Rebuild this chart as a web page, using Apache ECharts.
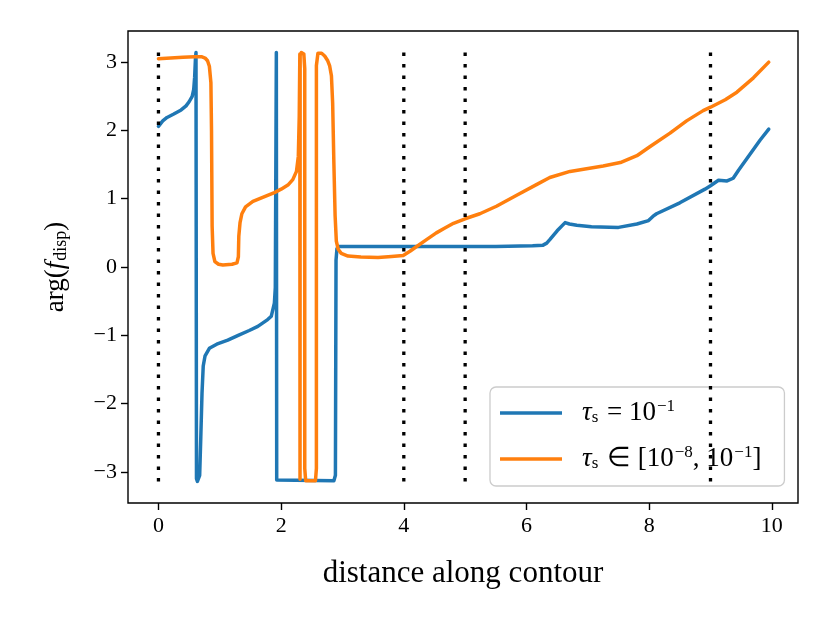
<!DOCTYPE html>
<html>
<head>
<meta charset="utf-8">
<script src="https://cdn.jsdelivr.net/npm/echarts@6/dist/echarts.min.js"></script>
<style>html,body{margin:0;padding:0;background:#fff}#c{width:830px;height:623px}</style>
</head>
<body>
<div id="c"></div>
<script>
const xTicks = [0, 2, 4, 6, 8, 10];
const yTicks = [-3, -2, -1, 0, 1, 2, 3];
const vlineX = [0, 4, 5, 9];
const vlineY = [-3.14, 3.14];
const seriesNames = ['τs = 10^-1', 'τs ∈ [10^-8, 10^-1]'];
const legendRich = ['{t|τ}{s|s}{n| = 10}{p|−1}', '{t|τ}{s|s}{n| ∈ [10}{p|−8}{n|, 10}{p|−1}{n|]}'];

const blueData = [
  [0.00,2.06],[0.07,2.14],[0.14,2.19],[0.25,2.24],[0.37,2.30],[0.45,2.36],[0.50,2.42],[0.55,2.50],
  [0.575,2.60],[0.59,2.78],[0.603,3.05],[0.612,3.14],[0.62,-3.10],[0.635,-3.14],[0.66,-3.14],
  [0.672,-3.05],[0.69,-2.50],[0.71,-1.85],[0.73,-1.45],[0.76,-1.30],[0.83,-1.19],[0.95,-1.13],
  [1.13,-1.07],[1.30,-1.00],[1.48,-0.93],[1.62,-0.87],[1.78,-0.77],[1.84,-0.72],[1.89,-0.53],
  [1.905,-0.30],[1.922,3.14],[1.928,-3.12],[1.95,-3.14],[2.86,-3.13],[2.885,-3.05],[2.895,0.10],
  [2.91,0.27],[2.94,0.30],[3.50,0.30],[4.50,0.30],[5.50,0.30],[6.10,0.31],[6.27,0.32],[6.33,0.35],
  [6.38,0.40],[6.50,0.53],[6.63,0.65],[6.70,0.63],[6.82,0.61],[7.06,0.59],[7.50,0.58],[7.80,0.63],
  [7.99,0.68],[8.06,0.74],[8.12,0.78],[8.50,0.94],[8.91,1.14],[9.00,1.19],[9.13,1.27],[9.27,1.26],
  [9.37,1.30],[9.46,1.42],[9.81,1.86],[9.95,2.02]
];

const orangeData = [
  [0.00,3.05],[0.20,3.06],[0.40,3.07],[0.59,3.08],[0.70,3.08],[0.76,3.06],[0.80,3.02],[0.83,2.94],
  [0.855,2.70],[0.865,2.00],[0.875,0.60],[0.89,0.20],[0.92,0.08],[0.98,0.04],[1.05,0.03],[1.20,0.04],
  [1.28,0.06],[1.303,0.15],[1.31,0.45],[1.33,0.65],[1.36,0.78],[1.42,0.88],[1.54,0.96],[1.70,1.02],
  [1.89,1.09],[2.00,1.14],[2.11,1.20],[2.19,1.28],[2.25,1.40],[2.28,1.62],[2.295,2.20],[2.305,3.12],
  [2.308,-3.11],[2.31,3.10],[2.33,3.14],[2.37,3.12],[2.385,2.90],[2.385,-2.95],[2.40,-3.13],
  [2.56,-3.13],[2.575,-2.95],[2.575,2.95],[2.60,3.13],[2.66,3.13],[2.71,3.09],[2.76,3.02],
  [2.79,2.95],[2.82,2.80],[2.84,2.40],[2.86,1.52],[2.88,0.75],[2.90,0.38],[2.93,0.26],[2.98,0.20],
  [3.09,0.16],[3.30,0.145],[3.58,0.14],[3.80,0.155],[3.99,0.17],[4.10,0.23],[4.21,0.30],[4.37,0.40],
  [4.53,0.50],[4.67,0.57],[4.81,0.64],[5.01,0.71],[5.24,0.78],[5.51,0.89],[5.84,1.05],[6.17,1.21],
  [6.38,1.31],[6.71,1.40],[6.93,1.43],[7.25,1.48],[7.53,1.53],[7.80,1.63],[8.01,1.76],[8.34,1.96],
  [8.61,2.14],[8.88,2.29],[9.00,2.34],[9.24,2.45],[9.43,2.56],[9.70,2.77],[9.95,3.00]
];

const FONT = 'Liberation Serif';
const chart = echarts.init(document.getElementById('c'), null, {renderer: 'canvas'});
const minusFmt = v => (v < 0 ? '\u2212' + Math.abs(v) : String(v));
const LW = 3.5;

const series = [
  {name: seriesNames[0], type: 'line', data: blueData, symbol: 'none', showSymbol: false,
   lineStyle: {color: '#1f77b4', width: LW, join: 'round', cap: 'round'}, itemStyle: {color: '#1f77b4'}, z: 2},
  {name: seriesNames[1], type: 'line', data: orangeData, symbol: 'none', showSymbol: false,
   lineStyle: {color: '#ff7f0e', width: LW, join: 'round', cap: 'round'}, itemStyle: {color: '#ff7f0e'}, z: 3}
];
vlineX.forEach(x => {
  series.push({type: 'line', data: vlineY.map(y => [x, y]), symbol: 'none', silent: true, z: 4,
    lineStyle: {color: '#000', width: 3.3, type: [3.3, 8.2], cap: 'butt'}});
});

chart.setOption({
  animation: false,
  backgroundColor: '#fff',
  grid: {left: 128, right: 32, top: 31, bottom: 120, show: true, borderColor: '#000', borderWidth: 1.4, backgroundColor: 'transparent'},
  xAxis: {
    type: 'value', min: -0.4965, max: 10.4265,
    axisLine: {show: false, onZero: false},
    splitLine: {show: false},
    axisTick: {show: true, customValues: xTicks, length: 7, lineStyle: {color: '#000', width: 1.4}},
    axisLabel: {customValues: xTicks, formatter: minusFmt, color: '#000', fontFamily: FONT, fontSize: 22, margin: 12},
    name: 'distance along contour', nameLocation: 'middle', nameGap: 55,
    nameTextStyle: {color: '#000', fontFamily: FONT, fontSize: 31}
  },
  yAxis: {
    type: 'value', min: -3.456, max: 3.456,
    axisLine: {show: false, onZero: false},
    splitLine: {show: false},
    axisTick: {show: true, customValues: yTicks, length: 7, lineStyle: {color: '#000', width: 1.4}},
    axisLabel: {customValues: yTicks, formatter: minusFmt, color: '#000', fontFamily: FONT, fontSize: 22, margin: 11},
    name: '{a|arg(}{f|f}{b|disp}{a|)}', nameLocation: 'middle', nameGap: 58, nameRotate: 90,
    nameTextStyle: {color: '#000', fontFamily: FONT, fontSize: 27,
      rich: {
        a: {fontFamily: FONT, fontSize: 27, color: '#000', verticalAlign: 'middle'},
        f: {fontFamily: FONT, fontSize: 27, fontStyle: 'italic', color: '#000', verticalAlign: 'middle'},
        b: {fontFamily: FONT, fontSize: 18, color: '#000', verticalAlign: 'middle', padding: [10, 0, 0, 1]}
      }}
  },
  legend: {
    data: seriesNames,
    orient: 'vertical', left: 490, top: 387,
    padding: [11, 23, 12, 10],
    icon: 'rect',
    itemWidth: 62, itemHeight: LW, itemGap: 16,
    backgroundColor: 'rgba(255,255,255,0.8)', borderColor: '#cccccc', borderWidth: 1.3, borderRadius: 6,
    formatter: name => legendRich[seriesNames.indexOf(name)],
    textStyle: {color: '#000', fontFamily: FONT, fontSize: 26, lineHeight: 30,
      rich: {
        t: {fontFamily: FONT, fontSize: 27, fontStyle: 'italic', color: '#000', verticalAlign: 'middle', padding: [0, 0, 0, 15], lineHeight: 30},
        s: {fontFamily: FONT, fontSize: 17, color: '#000', verticalAlign: 'middle', padding: [10, 2, 0, 0], lineHeight: 30},
        n: {fontFamily: FONT, fontSize: 27, color: '#000', verticalAlign: 'middle', lineHeight: 30},
        p: {fontFamily: FONT, fontSize: 17, color: '#000', verticalAlign: 'middle', padding: [0, 0, 12, 1], lineHeight: 30}
      }}
  },
  series: series
});
</script>
</body>
</html>
